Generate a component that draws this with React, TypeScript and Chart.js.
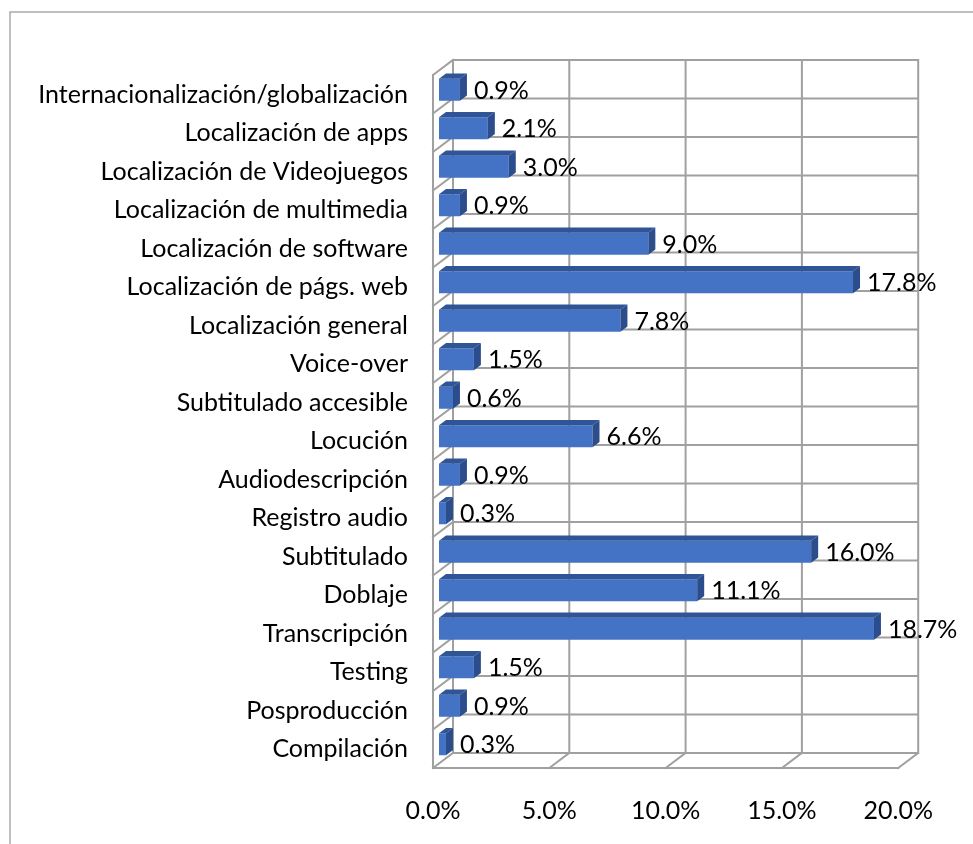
import React, { useEffect, useRef } from "react";
import { Chart, registerables } from "chart.js";

Chart.register(...registerables);

const categories: string[] = [
  "Internacionalización/globalización",
  "Localización de apps",
  "Localización de Videojuegos",
  "Localización de multimedia",
  "Localización de software",
  "Localización de págs. web",
  "Localización general",
  "Voice-over",
  "Subtitulado accesible",
  "Locución",
  "Audiodescripción",
  "Registro audio",
  "Subtitulado",
  "Doblaje",
  "Transcripción",
  "Testing",
  "Posproducción",
  "Compilación",
];

const values: number[] = [
  0.9, 2.1, 3.0, 0.9, 9.0, 17.8, 7.8, 1.5, 0.6, 6.6, 0.9, 0.3, 16.0, 11.1, 18.7, 1.5, 0.9, 0.3,
];

const xTicks: number[] = [0, 5, 10, 15, 20];

const FONT = "Lato";
const FSIZE = 25;
const GRID = "#A0A0A0";
const BACK = { dx: 14, dy: -10.5 };
const FRONT = { dx: -6, dy: 4.5 };
const BAR_DEPTH = { dx: 7, dy: -5.25 };

const depthPlugin = {
  id: "depth3d",
  beforeDraw(chart: any) {
    const ctx = chart.ctx;
    ctx.save();
    ctx.strokeStyle = "#AAAAAA";
    ctx.lineWidth = 1.5;
    ctx.beginPath();
    ctx.moveTo(10, 844);
    ctx.lineTo(10, 12);
    ctx.lineTo(973, 12);
    ctx.stroke();
    ctx.restore();
  },
  beforeDatasetsDraw(chart: any) {
    const { ctx, chartArea } = chart;
    const xs = chart.scales.x;
    const ys = chart.scales.y;
    const x0 = xs.getPixelForValue(xTicks[0]);
    const x1 = xs.getPixelForValue(xTicks[xTicks.length - 1]);
    const step = ys.getPixelForValue(1) - ys.getPixelForValue(0);
    const firstB = ys.getPixelForValue(0) - step / 2;
    const top = chartArea.top;
    const bottom = chartArea.bottom;
    ctx.save();
    ctx.strokeStyle = GRID;
    ctx.lineWidth = 2;
    ctx.lineCap = "square";
    ctx.beginPath();
    xTicks.forEach((t) => {
      const xp = xs.getPixelForValue(t) + BACK.dx;
      ctx.moveTo(xp, top + BACK.dy);
      ctx.lineTo(xp, bottom + BACK.dy);
    });
    for (let i = 0; i <= categories.length; i++) {
      const b = firstB + i * step;
      ctx.moveTo(x0 + BACK.dx, b + BACK.dy);
      ctx.lineTo(x1 + BACK.dx, b + BACK.dy);
      ctx.moveTo(x0 + BACK.dx, b + BACK.dy);
      ctx.lineTo(x0 + FRONT.dx, b + FRONT.dy);
    }
    ctx.moveTo(x0 + FRONT.dx, top + FRONT.dy);
    ctx.lineTo(x0 + FRONT.dx, bottom + FRONT.dy);
    xTicks.forEach((t) => {
      const xp = xs.getPixelForValue(t);
      ctx.moveTo(xp + BACK.dx, bottom + BACK.dy);
      ctx.lineTo(xp + FRONT.dx, bottom + FRONT.dy);
    });
    ctx.moveTo(x0 + FRONT.dx, bottom + FRONT.dy);
    ctx.lineTo(x1 + FRONT.dx, bottom + FRONT.dy);
    ctx.stroke();
    ctx.restore();
  },
  afterDatasetsDraw(chart: any) {
    const { ctx } = chart;
    const meta = chart.getDatasetMeta(0);
    ctx.save();
    meta.data.forEach((bar: any, i: number) => {
      const { x, y, base, height } = bar.getProps(["x", "y", "base", "height"], true);
      const t = y - height / 2;
      const b = y + height / 2;
      ctx.fillStyle = "#2F5597";
      ctx.beginPath();
      ctx.moveTo(base, t);
      ctx.lineTo(x, t);
      ctx.lineTo(x + BAR_DEPTH.dx, t + BAR_DEPTH.dy);
      ctx.lineTo(base + BAR_DEPTH.dx, t + BAR_DEPTH.dy);
      ctx.closePath();
      ctx.fill();
      ctx.fillStyle = "#2B4D8C";
      ctx.beginPath();
      ctx.moveTo(x, t);
      ctx.lineTo(x + BAR_DEPTH.dx, t + BAR_DEPTH.dy);
      ctx.lineTo(x + BAR_DEPTH.dx, b + BAR_DEPTH.dy);
      ctx.lineTo(x, b);
      ctx.closePath();
      ctx.fill();
      ctx.fillStyle = "#000000";
      ctx.font = `${FSIZE}px ${FONT}`;
      ctx.textAlign = "left";
      ctx.textBaseline = "middle";
      ctx.fillText(values[i].toFixed(1) + "%", x + 14, y + 1);
    });
    ctx.restore();
  },
};

export default function App() {
  const ref = useRef<HTMLCanvasElement | null>(null);
  useEffect(() => {
    if (!ref.current) return;
    const chart = new Chart(ref.current, {
      type: "bar",
      data: {
        labels: categories,
        datasets: [
          {
            data: values,
            backgroundColor: "#4472C4",
            borderWidth: 0,
            barPercentage: 0.57,
            categoryPercentage: 1,
          },
        ],
      },
      options: {
        indexAxis: "y",
        responsive: false,
        animation: false,
        layout: { padding: { top: 70.5, right: 68.8, bottom: 0, left: 0 } },
        plugins: {
          legend: { display: false },
          tooltip: { enabled: false },
        },
        scales: {
          x: {
            min: 0,
            max: 20,
            grid: { display: false },
            border: { display: false },
            afterFit: (s: any) => {
              s.height = 80.5;
            },
            afterBuildTicks: (s: any) => {
              s.ticks = xTicks.map((v) => ({ value: v }));
            },
            ticks: {
              color: "#000000",
              font: { family: FONT, size: FSIZE },
              padding: 24,
              labelOffset: -6,
              maxRotation: 0,
              callback: (v: any) => Number(v).toFixed(1) + "%",
            },
          },
          y: {
            grid: { display: false },
            border: { display: false },
            afterFit: (s: any) => {
              s.width = 439;
            },
            ticks: {
              color: "#000000",
              font: { family: FONT, size: FSIZE },
              padding: 23,
              labelOffset: 5,
              autoSkip: false,
            },
          },
        },
      },
      plugins: [depthPlugin],
    } as any);
    return () => chart.destroy();
  }, []);
  return (
    <div style={{ position: "absolute", left: 0, top: 0, width: 973, height: 844 }}>
      <canvas ref={ref} width={973} height={844} style={{ display: "block" }} />
    </div>
  );
}
